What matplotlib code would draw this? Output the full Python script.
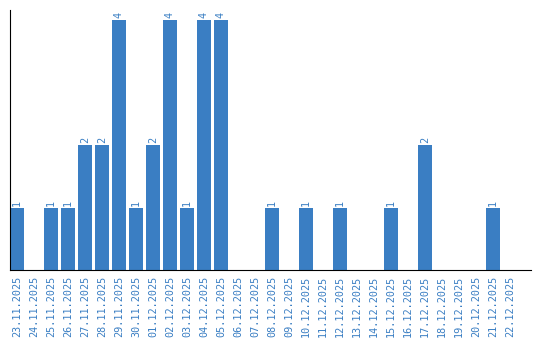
import numpy as np
import matplotlib
matplotlib.use('Agg')
import matplotlib.pyplot as plt

dias = ['23.11.2025', '24.11.2025', '25.11.2025', '26.11.2025', '27.11.2025',
        '28.11.2025', '29.11.2025', '30.11.2025', '01.12.2025', '02.12.2025',
        '03.12.2025', '04.12.2025', '05.12.2025', '06.12.2025', '07.12.2025',
        '08.12.2025', '09.12.2025', '10.12.2025', '11.12.2025', '12.12.2025',
        '13.12.2025', '14.12.2025', '15.12.2025', '16.12.2025', '17.12.2025',
        '18.12.2025', '19.12.2025', '20.12.2025', '21.12.2025', '22.12.2025']
valores = [1, 0, 1, 1, 2, 2, 4, 1, 2, 4, 1, 4, 4, 0, 0,
           1, 0, 1, 0, 1, 0, 0, 1, 0, 2, 0, 0, 0, 1, 0]

azul = '#3a7ec3'

fig = plt.figure(figsize=(5.4, 3.4), dpi=100)
ax = fig.add_axes([10/540, 70/340, 521/540, 260/340])

x = np.arange(len(dias))
barras = ax.bar(x, valores, width=0.82, color=azul)

for xi, v in zip(x, valores):
    if v > 0:
        ax.text(xi, v + 0.03, str(v), rotation=90, ha='center', va='bottom',
                color=azul, fontsize=7.3, family='DejaVu Sans Mono')

ax.set_xlim(-0.41, 30.24)
ax.set_ylim(0, 4.16)
ax.set_xticks(x)
ax.set_xticklabels(dias, rotation=90, color=azul, fontsize=7.3,
                   family='DejaVu Sans Mono')
ax.tick_params(axis='x', length=0, pad=4)
ax.set_yticks([])
ax.spines['top'].set_visible(False)
ax.spines['right'].set_visible(False)

fig.savefig('out.png', dpi=100)
